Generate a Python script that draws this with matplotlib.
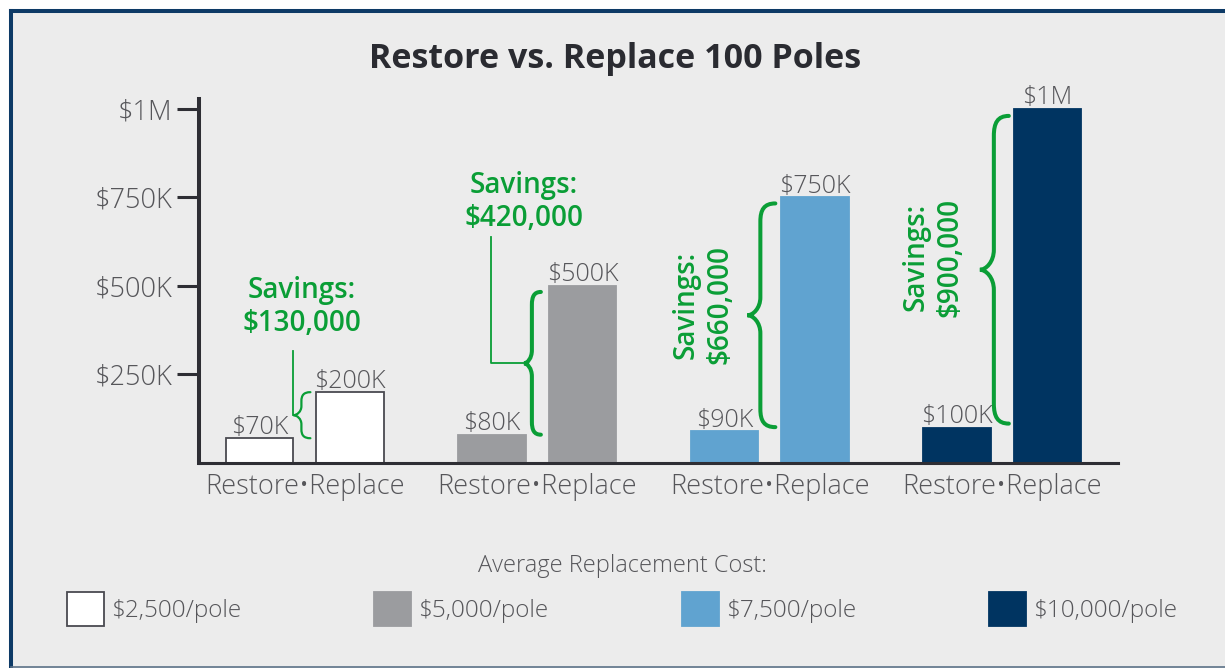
import matplotlib
matplotlib.use("Agg")
import matplotlib.pyplot as plt
from matplotlib.patches import Rectangle, PathPatch
from matplotlib.path import Path
from matplotlib.lines import Line2D
import numpy as np

# ---------------- data ----------------
group_labels = ["Restore\u2022Replace"] * 4
restore_values = [70000, 80000, 90000, 100000]
replace_values = [200000, 500000, 750000, 1000000]
restore_labels = ["$70K", "$80K", "$90K", "$100K"]
replace_labels = ["$200K", "$500K", "$750K", "$1M"]
savings_labels = ["Savings:\n$130,000", "Savings:\n$420,000",
                  "Savings:\n$660,000", "Savings:\n$900,000"]
legend_labels = ["$2,500/pole", "$5,000/pole", "$7,500/pole", "$10,000/pole"]
legend_title = "Average Replacement Cost:"
ytick_values = [250000, 500000, 750000, 1000000]
ytick_labels = ["$250K", "$500K", "$750K", "$1M"]
title = "Restore vs. Replace 100 Poles"

# ---------------- style ----------------
FONT = "Open Sans"
plt.rcParams["font.family"] = [FONT, "DejaVu Sans"]
GREEN = "#0a9e36"
GRAYTXT = "#56565a"
AXIS = "#2e2e34"
fills = ["white", "#9b9c9f", "#60a3d0", "#003461"]
edges = ["#4a4a50", "#9b9c9f", "#60a3d0", "#003461"]

W, H = 1225, 668
fig = plt.figure(figsize=(W / 100, H / 100), dpi=100)
fig.patch.set_facecolor("white")

# panel + border
fig.add_artist(Rectangle((11 / W, 0), 1.0, (H - 11) / H, transform=fig.transFigure,
                         facecolor="#ececec", edgecolor="none", zorder=-5))
fig.add_artist(Line2D([11 / W, 11 / W], [0, (H - 11) / H], transform=fig.transFigure,
                      color="#0d3a66", lw=2.9, solid_capstyle="projecting"))
fig.add_artist(Line2D([11 / W, 1], [(H - 11) / H] * 2, transform=fig.transFigure,
                      color="#0d3a66", lw=2.9, solid_capstyle="projecting"))
fig.add_artist(Line2D([11 / W, 1], [1.5 / H] * 2, transform=fig.transFigure,
                      color="#5d7288", lw=1.2))

# axes
AX_L, AX_B, AX_W, AX_H = 199, 463, 919, 364   # pixel geometry
ax = fig.add_axes([AX_L / W, (H - AX_B) / H, AX_W / W, AX_H / H])
ax.set_facecolor("none")
xmin, xmax = -0.455, 3.498
ymax = 1.028e6
ax.set_xlim(xmin, xmax)
ax.set_ylim(0, ymax)
sx = (xmax - xmin) / AX_W   # data per pixel
sy = ymax / AX_H

for s in ["top", "right"]:
    ax.spines[s].set_visible(False)
ax.spines["left"].set_linewidth(2.9)
ax.spines["left"].set_color(AXIS)
ax.spines["bottom"].set_linewidth(2.2)
ax.spines["bottom"].set_color(AXIS)

ax.set_yticks(ytick_values, ytick_labels)
ax.tick_params(axis="y", length=16, width=2.2, color=AXIS, pad=3,
               labelsize=19.5, labelcolor=GRAYTXT)
for t in ax.get_yticklabels():
    t.set_fontweight("light")

gx = np.arange(len(restore_values))
ax.set_xticks(gx, group_labels)
ax.tick_params(axis="x", length=0, pad=7, labelsize=19.5, labelcolor=GRAYTXT)
for t in ax.get_xticklabels():
    t.set_fontweight("light")

off, bw = 0.195, 0.29
b1 = ax.bar(gx - off, restore_values, bw, color=fills, edgecolor=edges, linewidth=1.3, zorder=2)
b2 = ax.bar(gx + off, replace_values, bw, color=fills, edgecolor=edges, linewidth=1.3, zorder=2)
for bars, labs in ((b1, restore_labels), (b2, replace_labels)):
    txts = ax.bar_label(bars, labels=labs, padding=-1, fontsize=18, color=GRAYTXT)
    for t in txts:
        t.set_fontweight("light")

# ---------------- braces ----------------
def brace(xb, top, bottom, e, c, t, r, lw):
    xe, xc, xt = xb - e * sx, xb - c * sx, xb - t * sx
    ry = r * sy
    mid = (top + bottom) / 2
    verts = [(xe, top),
             (xc + (xe - xc) * 0.25, top), (xc, top - ry * 0.35), (xc, top - ry),
             (xc, mid + ry),
             (xc, mid + ry * 0.4), (xt + (xc - xt) * 0.45, mid), (xt, mid),
             (xt + (xc - xt) * 0.45, mid), (xc, mid - ry * 0.4), (xc, mid - ry),
             (xc, bottom + ry),
             (xc, bottom + ry * 0.35), (xc + (xe - xc) * 0.25, bottom), (xe, bottom)]
    codes = [Path.MOVETO] + [Path.CURVE4] * 3 + [Path.LINETO] + [Path.CURVE4] * 6 + \
            [Path.LINETO] + [Path.CURVE4] * 3
    ax.add_patch(PathPatch(Path(verts, codes), facecolor="none", edgecolor=GREEN,
                           lw=lw, capstyle="round", zorder=3))
    return xt, mid

# per-group brace geometry in pixels: (end, column, tip, radius, linewidth, top gap, bottom gap)
brace_geom = [(6, 15, 23, 9, 1.6, 0, 0),
              (8, 17, 25, 13, 2.9, 6, 0),
              (6, 21, 34, 18, 2.9, 6, 4),
              (5, 20, 34, 20, 2.9, 7, 4)]
tips = []
for i in range(4):
    e, c, t, r, lw, tg, bg = brace_geom[i]
    xb = gx[i] + off - bw / 2
    tips.append(brace(xb, replace_values[i] - tg * sy, restore_values[i] + bg * sy, e, c, t, r, lw))

# savings text (figure-pixel layout positions)
def fp(x, y):
    return x / W, 1 - y / H

sav_pos = [(302, 307, 0), (524, 202, 0), (703, 305, 90), (933, 257, 90)]
for i, (x, y, rot) in enumerate(sav_pos):
    fx, fy = fp(x, y)
    fig.text(fx, fy, savings_labels[i], rotation=rot, ha="center", va="center",
             multialignment="center", fontsize=20, fontweight="semibold", color=GREEN,
             linespacing=1.2)

def ydata(py):
    return (AX_B - py) * sy

def xdata(px):
    return xmin + (px - AX_L) * sx

# leader lines
xt, mid = tips[0]
ax.plot([xt, xt], [mid, ydata(351)], color=GREEN, lw=1.3, zorder=3)
xt, mid = tips[1]
xl = xdata(491)
ax.plot([xl, xl, xt], [ydata(237), mid, mid], color=GREEN, lw=1.3, zorder=3)

# title
fx, fy = fp(615, 59)
fig.text(fx, fy, title, ha="center", va="center", fontsize=24.5, fontweight="bold", color="#2a2b31")

# legend
handles = [Rectangle((0, 0), 1, 1, facecolor=fills[i], edgecolor=edges[i] if i else "#4a4a50",
                     linewidth=1.3) for i in range(4)]
leg = fig.legend(handles, legend_labels, loc="center", bbox_to_anchor=fp(622, 590),
                 ncol=4, frameon=False, fontsize=17.5, handlelength=1.52, handleheight=1.8,
                 handletextpad=0.29, columnspacing=5.48, title=legend_title,
                 title_fontsize=17, labelspacing=0.6, labelcolor=GRAYTXT)
leg.get_title().set_color(GRAYTXT)
leg.get_title().set_fontweight("light")
for t in leg.get_texts():
    t.set_fontweight("light")

fig.savefig("out.png", dpi=100, facecolor=fig.get_facecolor())
